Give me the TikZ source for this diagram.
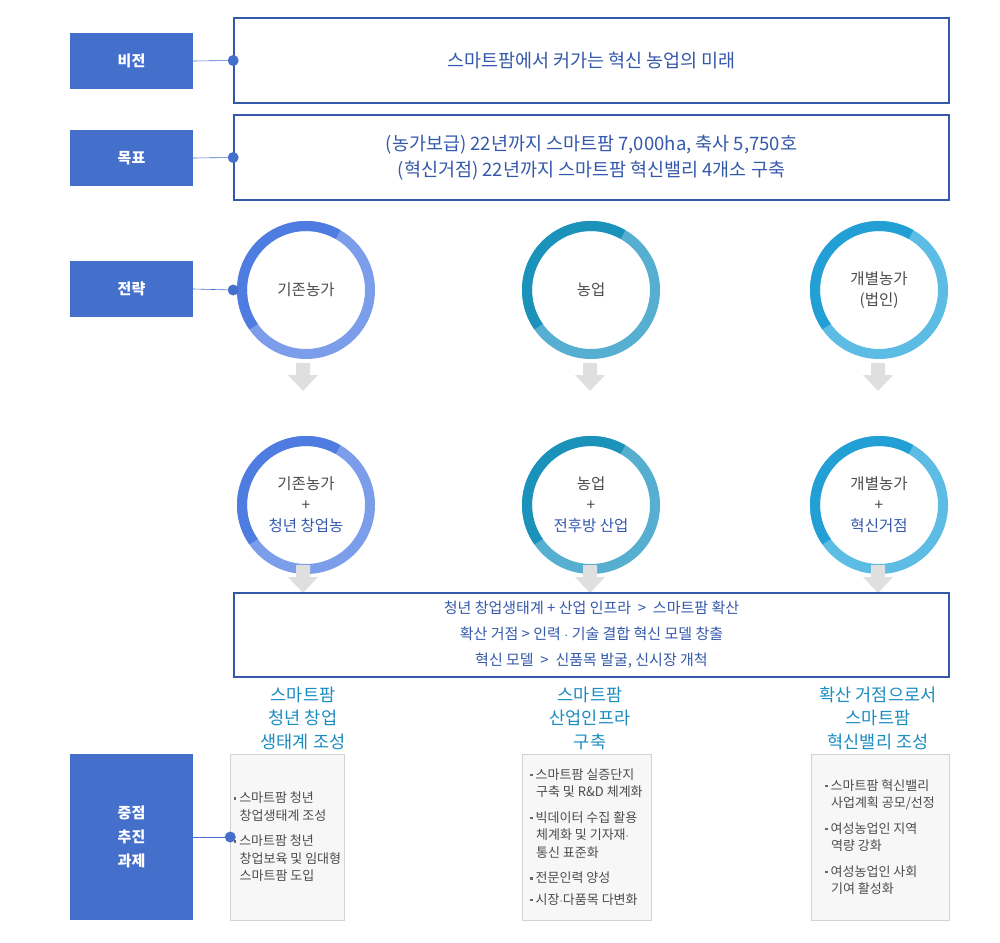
\documentclass[tikz,border=0pt]{standalone}
\usepackage{fontspec}
\setmainfont{Noto Sans CJK KR}
\definecolor{labelblue}{RGB}{68,112,204}
\definecolor{txtblue}{RGB}{52,88,170}
\definecolor{teal}{RGB}{26,140,192}
\definecolor{cAdark}{RGB}{78,124,224}
\definecolor{cAlight}{RGB}{124,158,234}
\definecolor{cBdark}{RGB}{26,146,186}
\definecolor{cBlight}{RGB}{86,174,208}
\definecolor{cCdark}{RGB}{34,160,214}
\definecolor{cClight}{RGB}{92,188,228}
\newcommand\bul{\textcolor{black!60}{\rule[3pt]{2.5pt}{2.5pt}}\ }

\begin{document}
\begin{tikzpicture}[x=1pt,y=-1pt,
    labelbox/.style={fill=labelblue,text=white,minimum width=123pt,font=\fontsize{15}{18}\selectfont\bfseries},
    framebox/.style={draw=txtblue,line width=1.6pt,minimum width=715pt,align=center,text=txtblue,font=\fontsize{18.5}{26}\selectfont},
    taskbox/.style={draw=gray!35,fill=gray!6,align=left,text=black!70,font=\fontsize{13}{17.5}\selectfont},
    circtext/.style={align=center,text=black!70,font=\fontsize{15.5}{21}\selectfont},
    headtext/.style={align=center,text=teal,font=\fontsize{17.5}{23.5}\selectfont},
    dot/.style={circle,fill=labelblue,inner sep=0pt,minimum size=11pt},
    link/.style={draw=labelblue,line width=0.6pt},
    grayarrow/.style={fill=gray!25,draw=none}]
\useasboundingbox (0,0) rectangle (1000,942);

% label boxes
\node[labelbox,minimum height=56pt] (vision) at (131.5,61) {비전};
\node[labelbox,minimum height=56pt] (goal) at (131.5,158) {목표};
\node[labelbox,minimum height=56pt] (strategy) at (131.5,289) {전략};
\node[labelbox,minimum height=166pt,align=center,font=\fontsize{15}{24}\selectfont\bfseries] (task) at (131.5,837) {중점\\추진\\과제};

% frames
\node[framebox,minimum height=85pt] (visionbox) at (591.5,60.5) {스마트팜에서 커가는 혁신 농업의 미래};
\node[framebox,minimum height=85pt] (goalbox) at (591.5,157.5) {(농가보급) 22년까지 스마트팜 7,000ha,  축사 5,750호\\(혁신거점) 22년까지 스마트팜 혁신밸리 4개소 구축};

% circles
\foreach \cx/\cy/\dk/\lt/\nm in {306/290/cAdark/cAlight/sA,591/290/cBdark/cBlight/sB,879/290/cCdark/cClight/sC,
                                 306/505/cAdark/cAlight/tA,591/505/cBdark/cBlight/tB,879/505/cCdark/cClight/tC}{
  \draw[\lt,line width=10pt] (\cx,\cy) circle[radius=64];
  \draw[\dk,line width=10pt] (\cx,\cy) ++(-60:64) arc[start angle=-60,end angle=-215,radius=64];
  \coordinate (\nm) at (\cx,\cy);
}
\node[circtext] (sAt) at (sA) {기존농가};
\node[circtext] (sBt) at (sB) {농업};
\node[circtext] (sCt) at (sC) {개별농가\\(법인)};
\node[circtext] (tAt) at (tA) {기존농가\\+\\\textcolor{txtblue}{청년 창업농}};
\node[circtext] (tBt) at (tB) {농업\\+\\\textcolor{txtblue}{전후방 산업}};
\node[circtext] (tCt) at (tC) {개별농가\\+\\\textcolor{txtblue}{혁신거점}};

% gray arrows
\foreach \ax in {303,590,878}{
  \foreach \ay in {363,565}{
    \fill[grayarrow] (\ax-7,\ay) -- (\ax+7,\ay) -- (\ax+7,\ay+12) -- (\ax+15,\ay+12)
      -- (\ax,\ay+28) -- (\ax-15,\ay+12) -- (\ax-7,\ay+12) -- cycle;
  }
}

% result frame
\node[framebox,minimum height=84pt,font=\fontsize{15}{26}\selectfont] (resultbox) at (591.5,635)
  {청년 창업생태계 + 산업 인프라 \ > \ 스마트팜 확산\\확산 거점 > 인력 $\cdot$ 기술 결합 혁신 모델 창출\\혁신 모델 \ > \ 신품목 발굴, 신시장 개척};

% headings
\node[headtext] (hA) at (303,718) {스마트팜\\청년 창업\\생태계 조성};
\node[headtext] (hB) at (590,718) {스마트팜\\산업인프라\\구축};
\node[headtext] (hC) at (878,718) {확산 거점으로서\\스마트팜\\혁신밸리 조성};

% task boxes
\node[taskbox,minimum width=109pt,minimum height=166pt] (bA) at (287.5,837)
  {\bul 스마트팜 청년\\\ \ 창업생태계 조성\\[8pt]\bul 스마트팜 청년\\\ \ 창업보육 및 임대형\\\ \ 스마트팜 도입};
\node[taskbox,minimum width=129pt,minimum height=166pt] (bB) at (586.5,837)
  {\bul 스마트팜 실증단지\\\ \ 구축 및 R\&D 체계화\\[8pt]\bul 빅데이터 수집 활용\\\ \ 체계화 및 기자재$\cdot$\\\ \ 통신 표준화\\[8pt]\bul 전문인력 양성\\[4pt]\bul 시장$\cdot$다품목 다변화};
\node[taskbox,minimum width=138pt,minimum height=166pt] (bC) at (880,837)
  {\bul 스마트팜 혁신밸리\\\ \ 사업계획 공모/선정\\[8pt]\bul 여성농업인 지역\\\ \ 역량 강화\\[8pt]\bul 여성농업인 사회\\\ \ 기여 활성화};

% links
\node[dot] (dV) at (visionbox.west) {};
\node[dot] (dG) at (goalbox.west) {};
\node[dot] (dS) at (sA -| visionbox.west) {};
\node[dot] (dT) at (bA.west) {};
\draw[link] (vision.east) -- (dV);
\draw[link] (goal.east) -- (dG);
\draw[link] (strategy.east) -- (dS);
\draw[link] (task.east) -- (dT);
\end{tikzpicture}
\end{document}
